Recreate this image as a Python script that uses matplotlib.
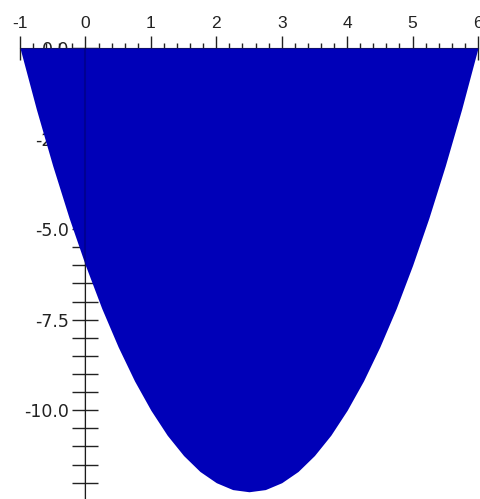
import matplotlib
matplotlib.use("Agg")
import matplotlib.pyplot as plt
from matplotlib.ticker import MultipleLocator, FormatStrFormatter

plt.rcParams["axes.unicode_minus"] = False

# sampled curve: x positions and the lower boundary of the shaded region
x_vals = [-1.0, -0.75, -0.5, -0.25, 0.0, 0.25, 0.5, 0.75, 1.0, 1.25, 1.5, 1.75,
          2.0, 2.25, 2.5, 2.75, 3.0, 3.25, 3.5, 3.75, 4.0, 4.25, 4.5, 4.75,
          5.0, 5.25, 5.5, 5.75, 6.0]
y_vals = [0.0, -1.69, -3.25, -4.69, -6.0, -7.19, -8.25, -9.19, -10.0, -10.69,
          -11.25, -11.69, -12.0, -12.19, -12.25, -12.19, -12.0, -11.69, -11.25,
          -10.69, -10.0, -9.19, -8.25, -7.19, -6.0, -4.69, -3.25, -1.69, 0.0]

x_major = [-1, 0, 1, 2, 3, 4, 5, 6]
y_major = [0.0, -2.5, -5.0, -7.5, -10.0]

W, H = 480, 499
fig = plt.figure(figsize=(W / 100, H / 100), dpi=100)
ax = fig.add_axes([20 / W, 0.0, 458 / W, 1 - 48 / H])

fill_color = (0.0, 0.0, 0.72)
ax.fill_between(x_vals, y_vals, 0, color=fill_color, lw=0, zorder=2)

ax.set_xlim(-1, 6)
ax.set_ylim(-12.45, 0)

font = "Liberation Sans"
ax.xaxis.tick_top()
ax.set_xticks(x_major)
ax.xaxis.set_minor_locator(MultipleLocator(0.2))
ax.set_yticks(y_major)
ax.yaxis.set_minor_locator(MultipleLocator(0.5))
ax.yaxis.set_major_formatter(FormatStrFormatter("%.1f"))

ax.tick_params(axis="x", which="major", direction="inout", length=17, width=1,
               pad=4, labelsize=12.5, colors="#222222")
ax.tick_params(axis="x", which="minor", direction="inout", length=7, width=1,
               colors="#222222")
ax.tick_params(axis="y", which="both", direction="inout", length=19, width=1,
               pad=2, labelsize=12.5, colors="#222222")
for lab in ax.get_xticklabels() + ax.get_yticklabels():
    lab.set_fontfamily(font)

# axes and their labels sit underneath the shaded region
ax.xaxis.set_zorder(0.5)
ax.yaxis.set_zorder(0.5)
for side in ("right", "bottom"):
    ax.spines[side].set_visible(False)
ax.spines["left"].set_position(("data", 0))
for side in ("left", "top"):
    ax.spines[side].set_color("#222222")
    ax.spines[side].set_zorder(0.6)
ax.patch.set_visible(False)

# faint trace of the vertical axis showing through the fill
ax.axvline(0, color="black", alpha=0.2, lw=1.5, zorder=3)

fig.savefig("out.png", dpi=100)
